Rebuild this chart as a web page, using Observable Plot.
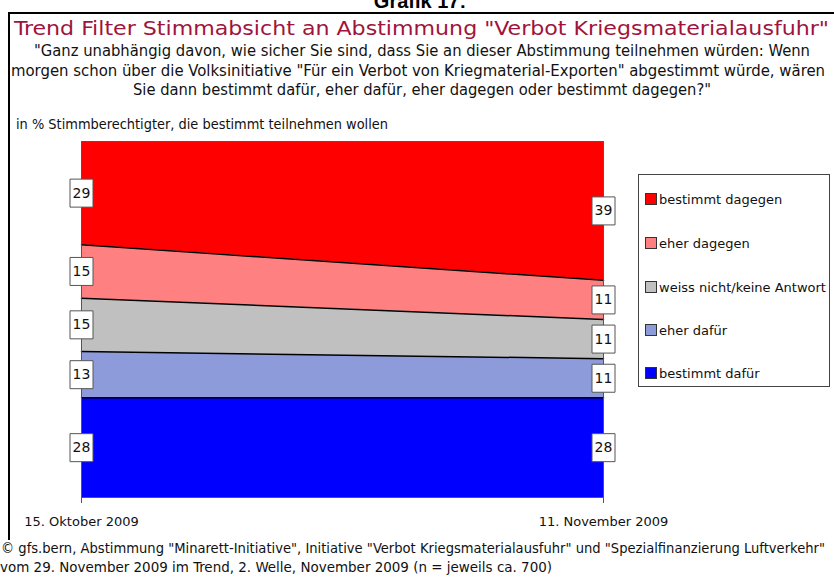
<!DOCTYPE html>
<html><head><meta charset="utf-8">
<script src="https://cdn.jsdelivr.net/npm/d3@7"></script>
<script src="https://cdn.jsdelivr.net/npm/@observablehq/plot@0.6"></script>
<style>
html,body{margin:0;padding:0;background:#fff;}
#wrap{position:relative;width:834px;height:578px;overflow:hidden;background:#fff;font-family:"DejaVu Sans",sans-serif;}
#deco{position:absolute;left:0;top:0;}
#chart{position:absolute;left:0;top:130px;}
#legend{position:absolute;left:638px;top:174px;width:192px;height:213px;border:1px solid #444;box-sizing:border-box;background:#fff;}
.item{position:absolute;left:6px;height:14px;display:flex;align-items:center;font-size:13px;color:#111;white-space:nowrap;}
.sw{width:10px;height:10px;border:1px solid #333;margin-right:2px;flex:none;}
</style></head>
<body><div id="wrap"><svg id="deco" width="834" height="578"></svg><div id="chart"></div><div id="legend"></div></div>
<script>
const dates = ["15. Oktober 2009", "11. November 2009"];
const categories = ["bestimmt dafür", "eher dafür", "weiss nicht/keine Antwort", "eher dagegen", "bestimmt dagegen"];
const octoberValues = [28, 13, 15, 15, 29];
const novemberValues = [28, 11, 11, 11, 39];
const colors = ["#0000FF", "#8E9BDA", "#C0C0C0", "#FF8080", "#FF0000"];
const heading = "Grafik 17:";
const titleText = "Trend Filter Stimmabsicht an Abstimmung \"Verbot Kriegsmaterialausfuhr\"";
const questionLines = [
  "\"Ganz unabhängig davon, wie sicher Sie sind, dass Sie an dieser Abstimmung teilnehmen würden: Wenn",
  "morgen schon über die Volksinitiative \"Für ein Verbot von Kriegmaterial-Exporten\" abgestimmt würde, wären",
  "Sie dann bestimmt dafür, eher dafür, eher dagegen oder bestimmt dagegen?\""
];
const unitNote = "in % Stimmberechtigter, die bestimmt teilnehmen wollen";
const sourceLines = [
  "© gfs.bern, Abstimmung \"Minarett-Initiative\", Initiative \"Verbot Kriegsmaterialausfuhr\" und \"Spezialfinanzierung Luftverkehr\"",
  "vom 29. November 2009 im Trend, 2. Welle, November 2009 (n = jeweils ca. 700)"
];

// long table built from the arrays
const rows = [];
categories.forEach((c, i) => {
  rows.push({date: 0, cat: c, value: octoberValues[i]});
  rows.push({date: 1, cat: c, value: novemberValues[i]});
});
const topCat = categories[categories.length - 1];

// decorations: frame & texts
const deco = d3.select("#deco");
deco.append("rect").attr("x", 8).attr("y", 12).attr("width", 830).attr("height", 2).attr("fill", "#000");
deco.append("rect").attr("x", 8).attr("y", 12).attr("width", 2).attr("height", 528).attr("fill", "#000");
const condensed = "'DejaVu Sans Condensed', 'DejaVu Sans', sans-serif";
function txt(s, x, y, opts) {
  const t = deco.append("text").attr("x", x).attr("y", y).text(s)
    .attr("font-family", opts.family || condensed)
    .attr("font-size", opts.size).attr("fill", opts.color || "#111")
    .attr("text-anchor", opts.anchor || "start");
  if (opts.weight) t.attr("font-weight", opts.weight);
  if (opts.len) t.attr("textLength", opts.len).attr("lengthAdjust", "spacingAndGlyphs");
  return t;
}
txt(heading, 420, 8, {size: 20, weight: "bold", anchor: "middle", family: "Liberation Sans", color: "#000"});
txt(titleText, 14, 35, {size: 20, color: "#A0143C", len: 815});
txt(questionLines[0], 34, 56, {size: 16, len: 776});
txt(questionLines[1], 11, 75.5, {size: 16, len: 814});
txt(questionLines[2], 133, 95, {size: 16, len: 578});
txt(unitNote, 16, 129, {size: 14, len: 372});
txt(sourceLines[0], 1, 553, {size: 14, len: 824});
txt(sourceLines[1], 0, 572, {size: 14, len: 552});

const labelBox = { draw(context) { context.rect(-11.5, -14, 23, 28); } };

const chart = Plot.plot({
  width: 834,
  height: 410,
  marginLeft: 81,
  marginRight: 231,
  marginTop: 11,
  marginBottom: 43,
  style: {background: "transparent", fontFamily: "DejaVu Sans", fontSize: "13px", color: "#111", overflow: "visible"},
  x: {domain: [0, 1], axis: null},
  y: {domain: [0, 100], axis: null},
  color: {domain: categories, range: colors},
  marks: [
    Plot.areaY(rows, Plot.stackY({x: "date", y: "value", z: "cat", fill: "cat"})),
    Plot.lineY(rows.filter(d => d.cat !== topCat), Plot.stackY2({x: "date", y: "value", z: "cat", stroke: "#000", strokeWidth: 1.5})),
    Plot.frame({stroke: "#555"}),
    Plot.axisX({ticks: [0, 1], tickFormat: i => dates[i], tickSize: 6, tickPadding: 13, fontSize: 13, stroke: "#555", label: null}),
    Plot.dot(rows, Plot.stackY({x: "date", y: "value", z: "cat", symbol: labelBox, fill: "white", stroke: "#555", strokeWidth: 1})),
    Plot.text(rows, Plot.stackY({x: "date", y: "value", z: "cat", text: d => String(d.value), fontSize: 14, fill: "#111"}))
  ]
});
document.getElementById("chart").appendChild(chart);

// legend (top to bottom = reversed stack order)
const legend = d3.select("#legend");
const centers = [24, 68, 112, 155, 198];
categories.slice().reverse().forEach((c, i) => {
  const it = legend.append("div").attr("class", "item").style("top", (centers[i] - 7) + "px");
  it.append("div").attr("class", "sw").style("background", colors[categories.indexOf(c)]);
  it.append("span").text(c);
});
</script>
</body></html>
